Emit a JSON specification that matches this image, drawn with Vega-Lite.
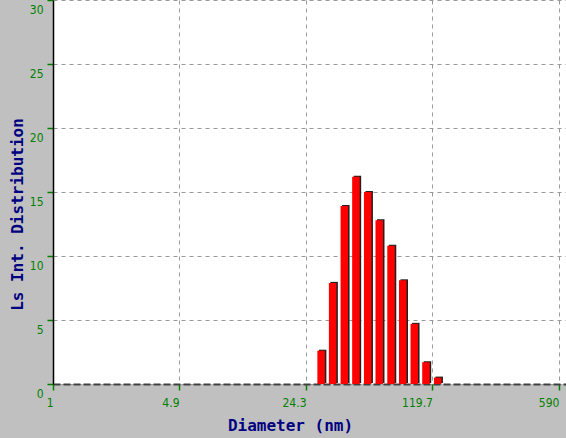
{
  "$schema": "https://vega.github.io/schema/vega-lite/v6.json",
  "autosize": "none",
  "width": 513,
  "height": 384,
  "padding": {"left": 53, "top": 0, "right": 0, "bottom": 54},
  "background": "#c0c0c0",
  "view": {"fill": "white", "stroke": null},
  "data": {"values": [
    {"d": 29.4, "v": 2.6},
    {"d": 34.0, "v": 7.9},
    {"d": 39.4, "v": 13.9},
    {"d": 45.6, "v": 16.2},
    {"d": 52.9, "v": 15.0},
    {"d": 61.2, "v": 12.8},
    {"d": 71.0, "v": 10.8},
    {"d": 82.3, "v": 8.1},
    {"d": 95.2, "v": 4.7},
    {"d": 110.3, "v": 1.7},
    {"d": 127.9, "v": 0.5}
  ]},
  "layer": [
    {
      "mark": {"type": "bar", "color": "#202020", "size": 7.5, "xOffset": 1.5, "yOffset": -1},
      "encoding": {
        "x": {
          "field": "d", "type": "quantitative",
          "scale": {"type": "log", "domain": [1, 645], "nice": false, "padding": 0},
          "axis": {
            "values": [1, 4.9, 24.3, 119.7, 590],
            "labelExpr": "datum.value == 1 ? '1' : datum.value == 4.9 ? '4.9' : datum.value == 24.3 ? '24.3' : datum.value == 119.7 ? '119.7' : '590'",
            "title": "Diameter (nm)",
            "titleFont": "DejaVu Sans Mono",
            "titleFontSize": 16,
            "titleFontWeight": "bold",
            "titleColor": "#000080",
            "titlePadding": 9,
            "titleX": 237,
            "titleAnchor": "middle",
            "domainColor": "#404040",
            "domainWidth": 2,
            "domainDash": [7, 3],
            "tickColor": "#008000",
            "tickSize": 6,
            "tickWidth": 1.5,
            "labelColor": "#008000",
            "labelFont": "DejaVu Sans Condensed",
            "labelFontSize": 12,
            "labelPadding": 7,
            "labelAlign": "right",
            "labelFlush": false,
            "labelOverlap": false,
            "grid": true,
            "gridColor": "#999999",
            "gridDash": [4, 4],
            "gridWidth": 1
          }
        },
        "y": {
          "field": "v", "type": "quantitative",
          "scale": {"domain": [0, 30], "nice": false},
          "axis": {
            "values": [0, 5, 10, 15, 20, 25, 30],
            "title": "Ls Int. Distribution",
            "titleFont": "DejaVu Sans Mono",
            "titleFontSize": 16,
            "titleFontWeight": "bold",
            "titleColor": "#000080",
            "titlePadding": 4,
            "titleY": 214,
            "domainColor": "black",
            "domainWidth": 1.5,
            "tickColor": "#008000",
            "tickSize": 6,
            "tickWidth": 1.5,
            "labelColor": "#008000",
            "labelFont": "DejaVu Sans Condensed",
            "labelFontSize": 12,
            "labelPadding": 4,
            "labelBaseline": "top",
            "labelOffset": 4,
            "labelFlush": false,
            "labelOverlap": false,
            "grid": true,
            "gridColor": "#999999",
            "gridDash": [4, 4],
            "gridWidth": 1
          }
        }
      }
    },
    {
      "mark": {"type": "bar", "color": "#ff0000", "size": 7.5},
      "encoding": {
        "x": {"field": "d", "type": "quantitative"},
        "y": {"field": "v", "type": "quantitative"}
      }
    }
  ]
}
